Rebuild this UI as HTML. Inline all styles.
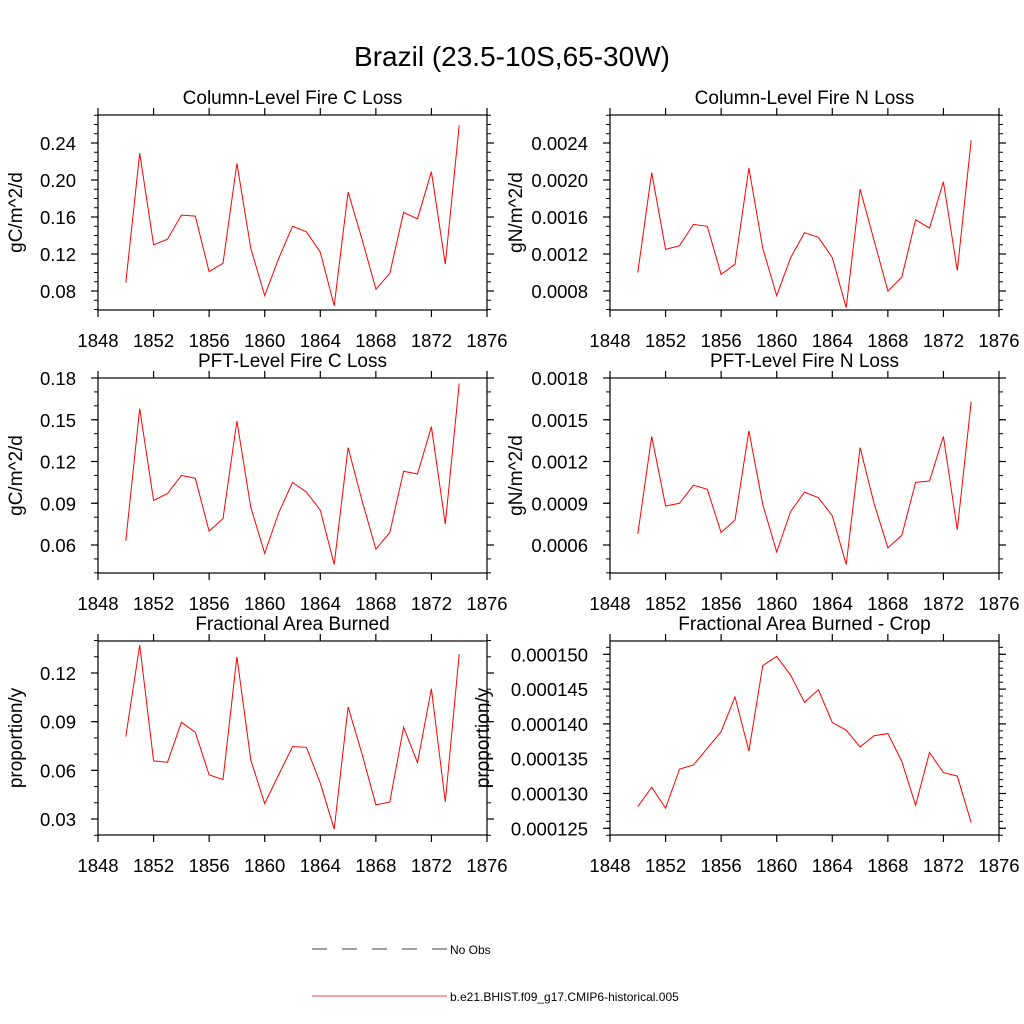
<!DOCTYPE html>
<html><head><meta charset="utf-8"><style>
body{margin:0;background:#fff;}
svg{display:block;font-family:"Liberation Sans",sans-serif;}
</style></head><body>
<svg id="chart" width="1024" height="1024" viewBox="0 0 1024 1024">
<rect width="1024" height="1024" fill="#fff"/>
<text x="512" y="66" text-anchor="middle" font-size="28">Brazil (23.5-10S,65-30W)</text>
<g>
<line x1="312" y1="949" x2="447" y2="949" stroke="#000" stroke-width="0.7" stroke-dasharray="15,15"/>
<text x="450" y="954" font-size="12">No Obs</text>
<line x1="312" y1="996" x2="447" y2="996" stroke="#f00" stroke-width="0.8"/>
<text x="450" y="1001" font-size="12">b.e21.BHIST.f09_g17.CMIP6-historical.005</text>
</g>
</svg>
<script>
const years=[1850,1851,1852,1853,1854,1855,1856,1857,1858,1859,1860,1861,1862,1863,1864,1865,1866,1867,1868,1869,1870,1871,1872,1873,1874];
const xTicks=[1848,1852,1856,1860,1864,1868,1872,1876];
const fireC=[0.089,0.229,0.130,0.136,0.162,0.161,0.101,0.110,0.218,0.126,0.075,0.115,0.150,0.144,0.122,0.064,0.187,0.136,0.082,0.099,0.165,0.158,0.209,0.109,0.259];
const fireN=[0.00100,0.00208,0.00125,0.00129,0.00152,0.00150,0.00098,0.00109,0.00213,0.00126,0.00075,0.00116,0.00143,0.00138,0.00116,0.00062,0.00190,0.00135,0.00080,0.00095,0.00157,0.00148,0.00198,0.00102,0.00243];
const pftC=[0.063,0.158,0.092,0.097,0.110,0.108,0.070,0.079,0.149,0.087,0.054,0.083,0.105,0.098,0.085,0.046,0.130,0.092,0.057,0.069,0.113,0.111,0.145,0.075,0.176];
const pftN=[0.00068,0.00138,0.00088,0.00090,0.00103,0.00100,0.00069,0.00078,0.00142,0.00089,0.00055,0.00084,0.00098,0.00094,0.00081,0.00046,0.00130,0.00090,0.00058,0.00067,0.00105,0.00106,0.00138,0.00071,0.00163];
const burned=[0.0808,0.1372,0.0658,0.0650,0.0896,0.0835,0.0572,0.0543,0.1300,0.0664,0.0395,0.0572,0.0746,0.0742,0.0521,0.0237,0.0991,0.0701,0.0387,0.0405,0.0866,0.0647,0.1103,0.0405,0.1317];
const burnedCrop=[0.0001281,0.0001309,0.0001279,0.0001335,0.0001341,0.0001365,0.0001389,0.0001439,0.0001361,0.0001484,0.0001497,0.0001470,0.0001431,0.0001449,0.0001402,0.0001391,0.0001367,0.0001383,0.0001386,0.0001346,0.0001283,0.0001359,0.0001330,0.0001325,0.0001258];
const ticksC=[0.08,0.12,0.16,0.20,0.24];
const ticksN=[0.0008,0.0012,0.0016,0.0020,0.0024];
const ticksPC=[0.06,0.09,0.12,0.15,0.18];
const ticksPN=[0.0006,0.0009,0.0012,0.0015,0.0018];
const ticksB=[0.03,0.06,0.09,0.12];
const ticksBC=[0.000125,0.000130,0.000135,0.000140,0.000145,0.000150];
const NS='http://www.w3.org/2000/svg';
const svg=document.getElementById('chart');
function mk(tag,attrs,parent){const e=document.createElementNS(NS,tag);for(const k in attrs)e.setAttribute(k,attrs[k]);parent.appendChild(e);return e;}
function panel(o){
  const g=mk('g',{},svg);
  
  
  const x=v=>o.x0+(v-1848)/(1876-1848)*(o.x1-o.x0);
  const y=v=>o.ya+(v-o.va)/(o.vb-o.va)*(o.yb-o.ya);
  const fr=mk('rect',{x:o.x0,y:o.y0,width:o.x1-o.x0,height:o.y1-o.y0,fill:'none',stroke:'#000','stroke-width':1.2},g);
  
  
  xTicks.forEach(t=>{
    const xx=x(t);
    mk('line',{x1:xx,x2:xx,y1:o.y1,y2:o.y1+7,stroke:'#000','stroke-width':1.2},g);
    mk('line',{x1:xx,x2:xx,y1:o.y0,y2:o.y0-7,stroke:'#000','stroke-width':1.2},g);
    const tl=mk('text',{x:xx,y:o.y1+37,'text-anchor':'middle','font-size':18.5},g);
    tl.textContent=t;
    
    
  });
  const hi=o.ticks[o.ticks.length-1]+o.minor*20;
  for(let k=0;;k++){
    const v=o.ticks[0]+(k-20)*o.minor; if(v>hi)break;
    const yy=y(v); if(yy<o.y0-0.5||yy>o.y1+0.5)continue;
    mk('line',{x1:o.x0,x2:o.x0-4,y1:yy,y2:yy,stroke:'#000','stroke-width':1},g);
    mk('line',{x1:o.x1,x2:o.x1+4,y1:yy,y2:yy,stroke:'#000','stroke-width':1},g);
  }
  o.ticks.forEach(t=>{
    const yy=y(t);
    mk('line',{x1:o.x0,x2:o.x0-7,y1:yy,y2:yy,stroke:'#000','stroke-width':1.2},g);
    mk('line',{x1:o.x1,x2:o.x1+7,y1:yy,y2:yy,stroke:'#000','stroke-width':1.2},g);
    const tl=mk('text',{x:o.x0-22,y:yy+7,'text-anchor':'end','font-size':18.5},g);
    tl.textContent=t.toFixed(o.dec);
    
    
  });
  const t=mk('text',{x:(o.x0+o.x1)/2,y:o.y0-11,'text-anchor':'middle','font-size':19},g);
  t.textContent=o.title;
  
  
  const yl=mk('text',{x:0,y:0,'text-anchor':'middle','font-size':19,transform:`translate(${o.ylx},${(o.y0+o.y1)/2}) rotate(-90)`},g);
  yl.textContent=o.ylabel;
  
  
  const d=years.map((yr,i)=>(i?'L':'M')+x(yr).toFixed(1)+','+y(o.data[i]).toFixed(1)).join(' ');
  const p=mk('path',{d:d,fill:'none',stroke:'#f00','stroke-width':1},g);
  
  
}
const L={x0:98,x1:487},R={x0:610,x1:999};
panel({name:'panel-column-fire-c',...L,y0:115,y1:310,ya:143,va:0.24,yb:291,vb:0.08,ticks:ticksC,minor:0.01,dec:2,data:fireC,title:'Column-Level Fire C Loss',ylabel:'gC/m^2/d',ylx:22});
panel({name:'panel-column-fire-n',...R,y0:115,y1:310,ya:143,va:0.0024,yb:291,vb:0.0008,ticks:ticksN,minor:0.0001,dec:4,data:fireN,title:'Column-Level Fire N Loss',ylabel:'gN/m^2/d',ylx:522});
panel({name:'panel-pft-fire-c',...L,y0:378,y1:573,ya:378,va:0.18,yb:545,vb:0.06,ticks:ticksPC,minor:0.01,dec:2,data:pftC,title:'PFT-Level Fire C Loss',ylabel:'gC/m^2/d',ylx:22});
panel({name:'panel-pft-fire-n',...R,y0:378,y1:573,ya:378,va:0.0018,yb:545,vb:0.0006,ticks:ticksPN,minor:0.0001,dec:4,data:pftN,title:'PFT-Level Fire N Loss',ylabel:'gN/m^2/d',ylx:522});
panel({name:'panel-area-burned',...L,y0:641,y1:835,ya:673,va:0.12,yb:819,vb:0.03,ticks:ticksB,minor:0.01,dec:2,data:burned,title:'Fractional Area Burned',ylabel:'proportion/y',ylx:22});
panel({name:'panel-area-burned-crop',...R,y0:641,y1:835,ya:654.3,va:0.000150,yb:828.3,vb:0.000125,ticks:ticksBC,minor:0.000001,dec:6,data:burnedCrop,title:'Fractional Area Burned - Crop',ylabel:'proportion/y',ylx:489});
</script>
</body></html>
